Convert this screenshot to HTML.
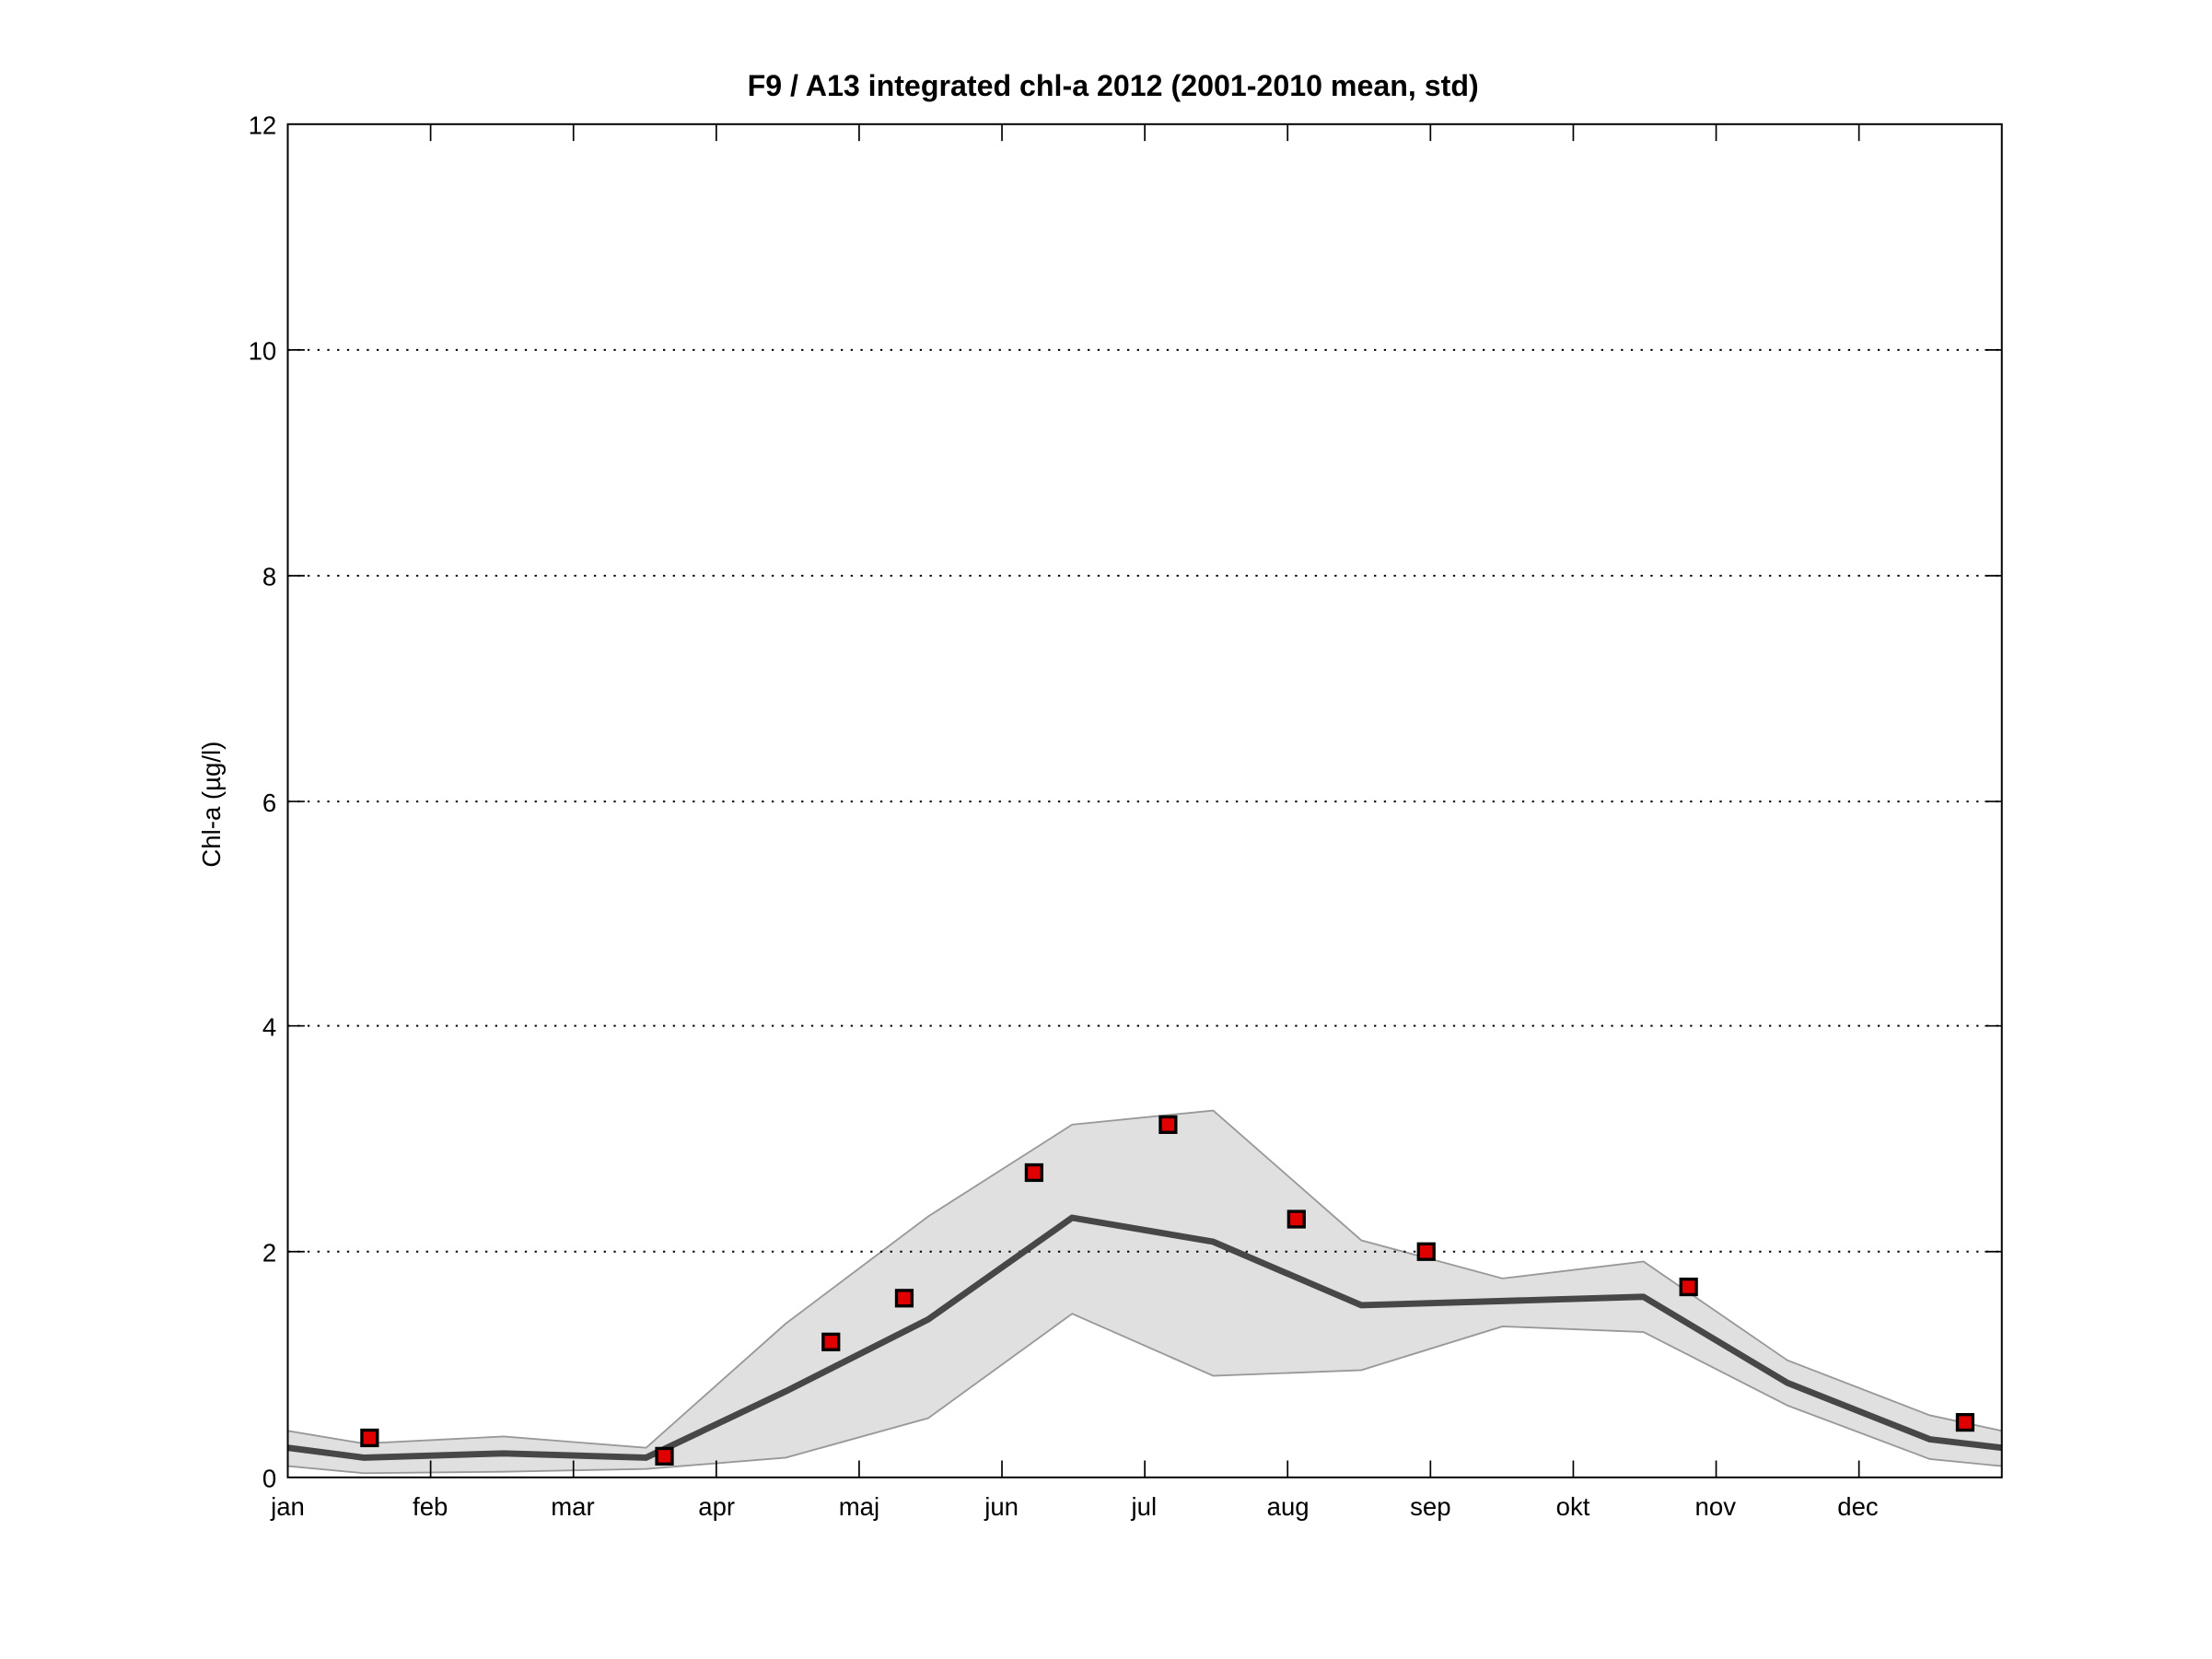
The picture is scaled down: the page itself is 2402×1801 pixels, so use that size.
<!DOCTYPE html>
<html><head><meta charset="utf-8"><style>html,body{margin:0;padding:0;background:#fff}svg{display:block}</style></head>
<body>
<svg width="2402" height="1801" viewBox="0 0 1568 1175.7" preserveAspectRatio="none" xmlns="http://www.w3.org/2000/svg" font-family="Liberation Sans, Arial, sans-serif">
<rect width="1600" height="1200" fill="#fff"/>
<polygon fill="#e0e0e0" stroke="none" points="204,1014 258,1023 357,1018 458,1026 557,938 658,862 760,797 860,787 965,879 1065,906 1165,894 1267,964 1368,1003 1419,1014 1419,1039 1368,1034 1267,996 1165,944 1065,940 965,971 860,975 760,931 658,1005 557,1033 458,1041 357,1043 258,1044 204,1039"/>
<polyline fill="none" stroke="#999" stroke-width="1.2" points="204,1014 258,1023 357,1018 458,1026 557,938 658,862 760,797 860,787 965,879 1065,906 1165,894 1267,964 1368,1003 1419,1014"/>
<polyline fill="none" stroke="#999" stroke-width="1.2" points="204,1039 258,1044 357,1043 458,1041 557,1033 658,1005 760,931 860,975 965,971 1065,940 1165,944 1267,996 1368,1034 1419,1039"/>
<g stroke="#000" stroke-width="1.3" stroke-dasharray="1.5,5.5">
<line x1="204" y1="887" x2="1419" y2="887"/><line x1="204" y1="727" x2="1419" y2="727"/><line x1="204" y1="568" x2="1419" y2="568"/><line x1="204" y1="408" x2="1419" y2="408"/><line x1="204" y1="248" x2="1419" y2="248"/>
</g>
<polyline fill="none" stroke="#474747" stroke-width="4.5" stroke-linejoin="round" points="204,1026 258,1033 357,1030 458,1033 557,986 658,935 760,863 860,880 965,925 1065,922 1165,919 1267,980 1368,1020 1419,1026"/>
<g fill="#e00000" stroke="#000" stroke-width="2.2">
<rect x="256.5" y="1013.5" width="11" height="11"/><rect x="465.5" y="1026.5" width="11" height="11"/><rect x="583.5" y="945.5" width="11" height="11"/><rect x="635.5" y="914.5" width="11" height="11"/><rect x="727.5" y="825.5" width="11" height="11"/><rect x="822.5" y="791.5" width="11" height="11"/><rect x="913.5" y="858.5" width="11" height="11"/><rect x="1005.5" y="881.5" width="11" height="11"/><rect x="1191.5" y="906.5" width="11" height="11"/><rect x="1387.5" y="1002.5" width="11" height="11"/>
</g>
<rect x="204" y="88" width="1215" height="959" fill="none" stroke="#000" stroke-width="1.3"/>
<g stroke="#000" stroke-width="1.1">
<path d="M305.25,1047v-12M406.5,1047v-12M507.75,1047v-12M609,1047v-12M710.25,1047v-12M811.5,1047v-12M912.75,1047v-12M1014,1047v-12M1115.25,1047v-12M1216.5,1047v-12M1317.75,1047v-12"/>
<path d="M305.25,88v12M406.5,88v12M507.75,88v12M609,88v12M710.25,88v12M811.5,88v12M912.75,88v12M1014,88v12M1115.25,88v12M1216.5,88v12M1317.75,88v12"/>
<path d="M204,887h12M204,727h12M204,568h12M204,408h12M204,248h12M1419,887h-12M1419,727h-12M1419,568h-12M1419,408h-12M1419,248h-12"/>
</g>
<g font-size="18" text-anchor="end" fill="#000">
<text x="196" y="1054">0</text><text x="196" y="894">2</text><text x="196" y="734">4</text><text x="196" y="575">6</text><text x="196" y="415">8</text><text x="196" y="255">10</text><text x="196" y="95">12</text>
</g>
<g font-size="18" text-anchor="middle" fill="#000">
<text x="204" y="1074">jan</text><text x="305" y="1074">feb</text><text x="406" y="1074">mar</text><text x="508" y="1074">apr</text><text x="609" y="1074">maj</text><text x="710" y="1074">jun</text><text x="811" y="1074">jul</text><text x="913" y="1074">aug</text><text x="1014" y="1074">sep</text><text x="1115" y="1074">okt</text><text x="1216" y="1074">nov</text><text x="1317" y="1074">dec</text>
</g>
<text x="789" y="68" font-size="21" font-weight="bold" text-anchor="middle">F9 / A13 integrated chl-a 2012 (2001-2010 mean, std)</text>
<text transform="translate(156,570) rotate(-90)" font-size="18" text-anchor="middle">Chl-a (µg/l)</text>
</svg>
</body></html>
